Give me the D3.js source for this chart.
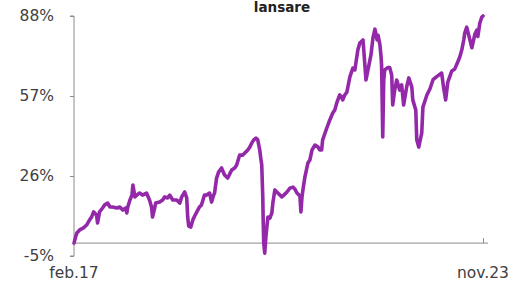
<!DOCTYPE html>
<html>
<head>
<meta charset="utf-8">
<script src="https://cdn.jsdelivr.net/npm/d3@7/dist/d3.min.js"></script>
<style>
	html, body { margin: 0; padding: 0; background: #fff; }
	svg { display: block; }
	.tick-label { font-family: "DejaVu Sans", sans-serif; font-size: 15.5px; fill: #404040; }
	.chart-title { font-family: "DejaVu Sans", sans-serif; font-size: 13.5px; font-weight: bold; fill: #222; }
</style>
</head>
<body>
<svg id="chart" width="514" height="286"></svg>
<script>
'use strict';

var chartTitle = 'lansare';
var yTicks = [-5, 26, 57, 88];
var xTickLabels = ['feb.17', 'nov.23'];
var xTickDates = ['2017-02-01', '2023-11-01'];

// dates, one per value
var dates = [
	'2017-02-01', '2017-02-12', '2017-02-18', '2017-03-07', '2017-03-30', '2017-04-18', '2017-05-06', '2017-05-18',
	'2017-05-30', '2017-06-11', '2017-06-17', '2017-06-23', '2017-07-05', '2017-07-23', '2017-08-05', '2017-08-23',
	'2017-09-05', '2017-09-22', '2017-10-16', '2017-11-04', '2017-11-22', '2017-12-10', '2017-12-16', '2017-12-22',
	'2018-01-04', '2018-01-16', '2018-01-22', '2018-02-03', '2018-02-14', '2018-03-03', '2018-03-21', '2018-04-14',
	'2018-05-02', '2018-05-14', '2018-05-20', '2018-06-02', '2018-06-08', '2018-07-02', '2018-07-20', '2018-08-01',
	'2018-08-19', '2018-09-01', '2018-09-19', '2018-10-13', '2018-10-31', '2018-11-12', '2018-11-30', '2018-12-12',
	'2018-12-18', '2018-12-24', '2019-01-06', '2019-01-18', '2019-01-29', '2019-02-11', '2019-02-27', '2019-03-11',
	'2019-03-29', '2019-04-11', '2019-04-29', '2019-05-11', '2019-05-23', '2019-05-29', '2019-06-10', '2019-06-22',
	'2019-07-10', '2019-07-28', '2019-08-16', '2019-08-28', '2019-09-09', '2019-09-27', '2019-10-09', '2019-10-27',
	'2019-11-15', '2019-11-27', '2019-12-15', '2019-12-27', '2020-01-08', '2020-01-20', '2020-02-02', '2020-02-13',
	'2020-02-19', '2020-02-25', '2020-03-02', '2020-03-08', '2020-03-14', '2020-03-17', '2020-03-20', '2020-03-26',
	'2020-04-02', '2020-04-14', '2020-04-26', '2020-05-08', '2020-05-14', '2020-05-26', '2020-06-13', '2020-07-07',
	'2020-07-19', '2020-08-07', '2020-08-25', '2020-09-12', '2020-09-24', '2020-10-06', '2020-10-24', '2020-10-30',
	'2020-11-05', '2020-11-11', '2020-11-23', '2020-12-11', '2020-12-23', '2021-01-05', '2021-01-23', '2021-02-10',
	'2021-02-21', '2021-03-04', '2021-03-10', '2021-04-04', '2021-04-22', '2021-05-10', '2021-05-22', '2021-06-03',
	'2021-06-21', '2021-07-03', '2021-07-09', '2021-07-21', '2021-08-03', '2021-08-21', '2021-09-08', '2021-09-20',
	'2021-10-08', '2021-10-20', '2021-11-08', '2021-11-14', '2021-11-26', '2021-12-08', '2021-12-26', '2022-01-07',
	'2022-01-19', '2022-02-01', '2022-02-07', '2022-02-18', '2022-02-24', '2022-02-28', '2022-03-07', '2022-03-13',
	'2022-03-19', '2022-04-06', '2022-04-18', '2022-04-30', '2022-05-06', '2022-05-18', '2022-05-30', '2022-06-17',
	'2022-06-29', '2022-07-11', '2022-07-29', '2022-08-11', '2022-08-29', '2022-09-04', '2022-09-22', '2022-09-28',
	'2022-10-10', '2022-10-28', '2022-11-04', '2022-11-28', '2022-12-16', '2023-01-04', '2023-01-28', '2023-02-25',
	'2023-03-09', '2023-03-21', '2023-04-03', '2023-04-27', '2023-05-15', '2023-06-02', '2023-06-14', '2023-06-26',
	'2023-07-08', '2023-07-14', '2023-07-26', '2023-08-08', '2023-08-26', '2023-09-13', '2023-09-25', '2023-10-01',
	'2023-10-13', '2023-10-25', '2023-11-01'
];

// percent change since launch
var values = [
	0.0, 2.7, 3.9, 5.1, 5.9, 7.0, 9.0, 10.1,
	12.1, 11.3, 10.9, 7.8, 12.1, 13.6, 14.8, 15.5,
	14.0, 14.0, 13.6, 14.0, 12.8, 13.6, 11.7, 14.0,
	16.7, 18.6, 22.5, 17.9, 18.6, 19.4, 18.6, 19.4,
	16.7, 14.0, 10.1, 13.6, 15.5, 15.9, 16.7, 17.9,
	17.5, 18.6, 16.7, 16.7, 15.5, 17.9, 19.8, 17.5,
	10.1, 6.6, 6.2, 9.0, 10.5, 12.1, 14.0, 14.8,
	18.6, 18.6, 19.4, 15.9, 18.6, 19.4, 25.2, 27.5,
	29.1, 26.4, 25.2, 26.8, 28.3, 29.1, 30.3, 34.1,
	34.1, 34.9, 36.1, 37.2, 38.8, 40.0, 40.7, 40.0,
	38.0, 36.1, 33.0, 30.3, 18.6, 7.8, 0.0, -3.9,
	2.4, 10.1, 9.7, 11.7, 15.5, 20.6, 19.4, 17.9,
	18.6, 19.8, 21.3, 21.7, 20.9, 19.4, 18.3, 12.1,
	17.5, 20.6, 25.6, 31.0, 32.2, 36.1, 38.0, 37.2,
	36.1, 36.1, 40.0, 44.6, 47.7, 50.4, 51.6, 54.3,
	57.4, 56.6, 55.5, 57.4, 58.5, 64.4, 67.8, 67.1,
	74.8, 77.5, 78.7, 73.7, 63.2, 67.1, 72.9, 79.5,
	82.9, 78.7, 80.5, 76.8, 72.9, 69.0, 41.1, 63.2,
	67.1, 68.0, 68.0, 65.1, 53.5, 59.3, 63.2, 59.3,
	61.3, 53.5, 60.5, 64.0, 60.5, 55.5, 51.6, 40.0,
	37.2, 42.7, 52.7, 57.4, 59.7, 63.3, 64.6, 65.9,
	60.1, 55.5, 62.4, 66.7, 67.5, 70.2, 72.1, 74.8,
	78.7, 81.4, 83.7, 80.3, 75.7, 81.0, 82.5, 80.1,
	85.3, 87.6, 88.0
];

(function(){
	var parseDate = d3.timeParse('%Y-%m-%d');
	var series = dates.map(function(d, i){
		return { date: parseDate(d), value: values[i] };
	});

	var svg = d3.select('#chart');
	var plotLeft = 74, plotRight = 483, plotTop = 16, plotBottom = 256;

	var x = d3.scaleTime()
		.domain([parseDate(xTickDates[0]), parseDate(xTickDates[1])])
		.range([plotLeft, plotRight]);

	var y = d3.scaleLinear()
		.domain([yTicks[0], yTicks[yTicks.length - 1]])
		.range([plotBottom, plotTop]);

	// title
	svg.append('text')
		.attr('class', 'chart-title')
		.attr('x', 282)
		.attr('y', 12)
		.attr('text-anchor', 'middle')
		.text(chartTitle);

	// y axis
	var yAxis = d3.axisLeft(y)
		.tickValues(yTicks)
		.tickSize(4)
		.tickPadding(16)
		.tickFormat(function(d){ return d + '%'; });

	var gy = svg.append('g')
		.attr('transform', 'translate(' + plotLeft + ',0)')
		.call(yAxis);
	gy.attr('font-family', null).attr('font-size', null);
	gy.select('.domain').attr('stroke', '#8c8c8c').attr('d', 'M-4,' + plotTop + 'H0V' + plotBottom + 'H-4');
	gy.selectAll('.tick line').attr('stroke', '#8c8c8c');
	gy.selectAll('.tick text')
		.attr('class', 'tick-label')
		.attr('fill', null);

	// x axis drawn along the zero line
	var xAxis = d3.axisTop(x)
		.tickValues([parseDate(xTickDates[1])])
		.tickSize(5)
		.tickFormat('');

	var gx = svg.append('g')
		.attr('transform', 'translate(0,' + y(0) + ')')
		.call(xAxis);
	gx.select('.domain').attr('stroke', '#8c8c8c').attr('d', 'M' + plotLeft + ',0H' + (plotRight + 5));
	gx.selectAll('.tick line').attr('stroke', '#8c8c8c');

	// x labels at bottom
	svg.append('g')
		.selectAll('text')
		.data(xTickDates)
		.enter()
		.append('text')
			.attr('class', 'tick-label')
			.attr('x', function(d){ return x(parseDate(d)); })
			.attr('y', 278)
			.attr('text-anchor', 'middle')
			.text(function(d, i){ return xTickLabels[i]; });

	// the series
	var line = d3.line()
		.x(function(d){ return x(d.date); })
		.y(function(d){ return y(d.value); });

	svg.append('path')
		.datum(series)
		.attr('fill', 'none')
		.attr('stroke', '#9329a8')
		.attr('stroke-width', 3.6)
		.attr('stroke-linejoin', 'round')
		.attr('stroke-linecap', 'round')
		.attr('d', line);
})();
</script>
</body>
</html>
